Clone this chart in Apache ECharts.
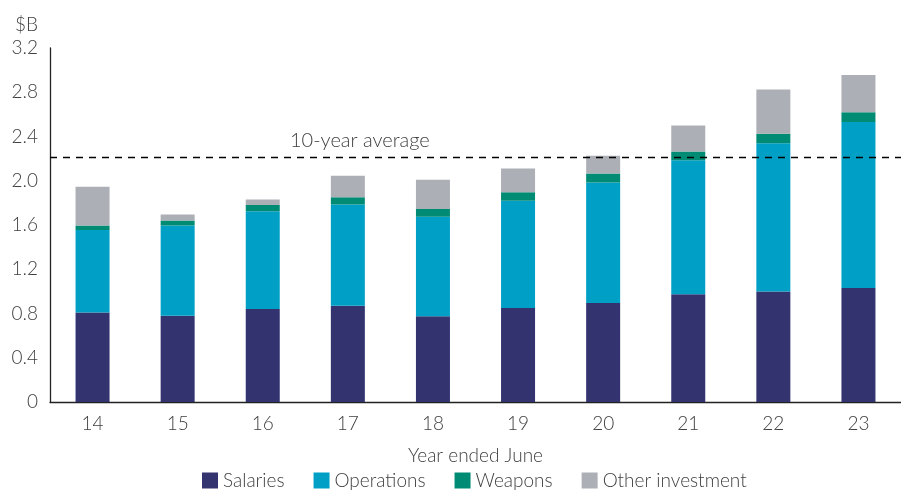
<!DOCTYPE html>
<html lang="en">
<head>
<meta charset="utf-8">
<title>Defence spending</title>
<style>
  html, body { margin: 0; padding: 0; background: #fff; }
  #main { width: 901px; height: 490px; }
</style>
</head>
<body>
	<div id="main"></div>

	<script type="text/javascript" src="https://cdn.jsdelivr.net/npm/echarts@6/dist/echarts.min.js"></script>
	<script type="text/javascript">
		// year ended June
		var years = ['14', '15', '16', '17', '18', '19', '20', '21', '22', '23'];
		// $B
		var salaries   = [0.81, 0.78, 0.84, 0.87, 0.775, 0.85, 0.895, 0.975, 1.00, 1.03];
		var operations = [0.745, 0.815, 0.885, 0.915, 0.90, 0.97, 1.09, 1.21, 1.34, 1.50];
		var weapons    = [0.04, 0.045, 0.055, 0.065, 0.07, 0.075, 0.08, 0.08, 0.085, 0.09];
		var other      = [0.35, 0.055, 0.05, 0.195, 0.265, 0.215, 0.16, 0.235, 0.40, 0.335];
		var tenYearAvg = 2.21;

		var font = 'Lato, "Open Sans", sans-serif';
		var txt = '#404040';

		var myChart = echarts.init(document.getElementById('main'));

		function bar(name, data, color) {
			return {
				name: name,
				type: 'bar',
				stack: 'total',
				barWidth: 34,
				data: data,
				itemStyle: { color: color },
				emphasis: { disabled: true }
			};
		}

		var series = [
			bar('Salaries', salaries, '#32336f'),
			bar('Operations', operations, '#00a0c6'),
			bar('Weapons', weapons, '#008b74'),
			bar('Other investment', other, '#acafb5')
		];
		series[3].markLine = {
			symbol: 'none',
			silent: true,
			lineStyle: { color: '#000', type: [7, 6], width: 1.3 },
			label: {
				show: true,
				position: 'insideStartTop',
				formatter: '10-year average',
				offset: [235, -2],
				color: txt,
				fontFamily: font,
				fontWeight: 300,
				fontSize: 20
			},
			data: [{ yAxis: tenYearAvg }]
		};

		var option = {
			animation: false,
			textStyle: { fontFamily: font },
			grid: { left: 50, top: 48, width: 863, height: 354 },
			legend: {
				bottom: 0,
				left: 202,
				padding: 0,
				itemWidth: 16,
				itemHeight: 16,
				itemGap: 29,
				icon: 'rect',
				textStyle: { color: txt, fontFamily: font, fontWeight: 300, fontSize: 19 },
				data: ['Salaries', 'Operations', 'Weapons', 'Other investment']
			},
			xAxis: {
				type: 'category',
				data: years,
				name: 'Year ended June',
				nameLocation: 'middle',
				nameGap: 44,
				nameTextStyle: { color: txt, fontFamily: font, fontWeight: 300, fontSize: 19 },
				axisLine: { lineStyle: { color: '#222', width: 1.3 } },
				axisTick: { show: false },
				axisLabel: { color: txt, fontFamily: font, fontWeight: 300, fontSize: 19, margin: 12 }
			},
			yAxis: {
				type: 'value',
				min: 0,
				max: 3.2,
				interval: 0.4,
				name: '$B',
				nameLocation: 'end',
				nameGap: 14,
				nameTextStyle: { color: txt, fontFamily: font, fontWeight: 300, fontSize: 19, align: 'right', padding: [0, 12, 0, 0] },
				splitLine: { show: false },
				axisLine: { show: true, lineStyle: { color: '#222', width: 1.3 } },
				axisTick: { show: false },
				axisLabel: {
					color: txt, fontFamily: font, fontWeight: 300, fontSize: 19, margin: 12,
					formatter: function (v) { return v === 0 ? '0' : v.toFixed(1); }
				}
			},
			series: series
		};

		myChart.setOption(option);
	</script>
</body>
</html>
